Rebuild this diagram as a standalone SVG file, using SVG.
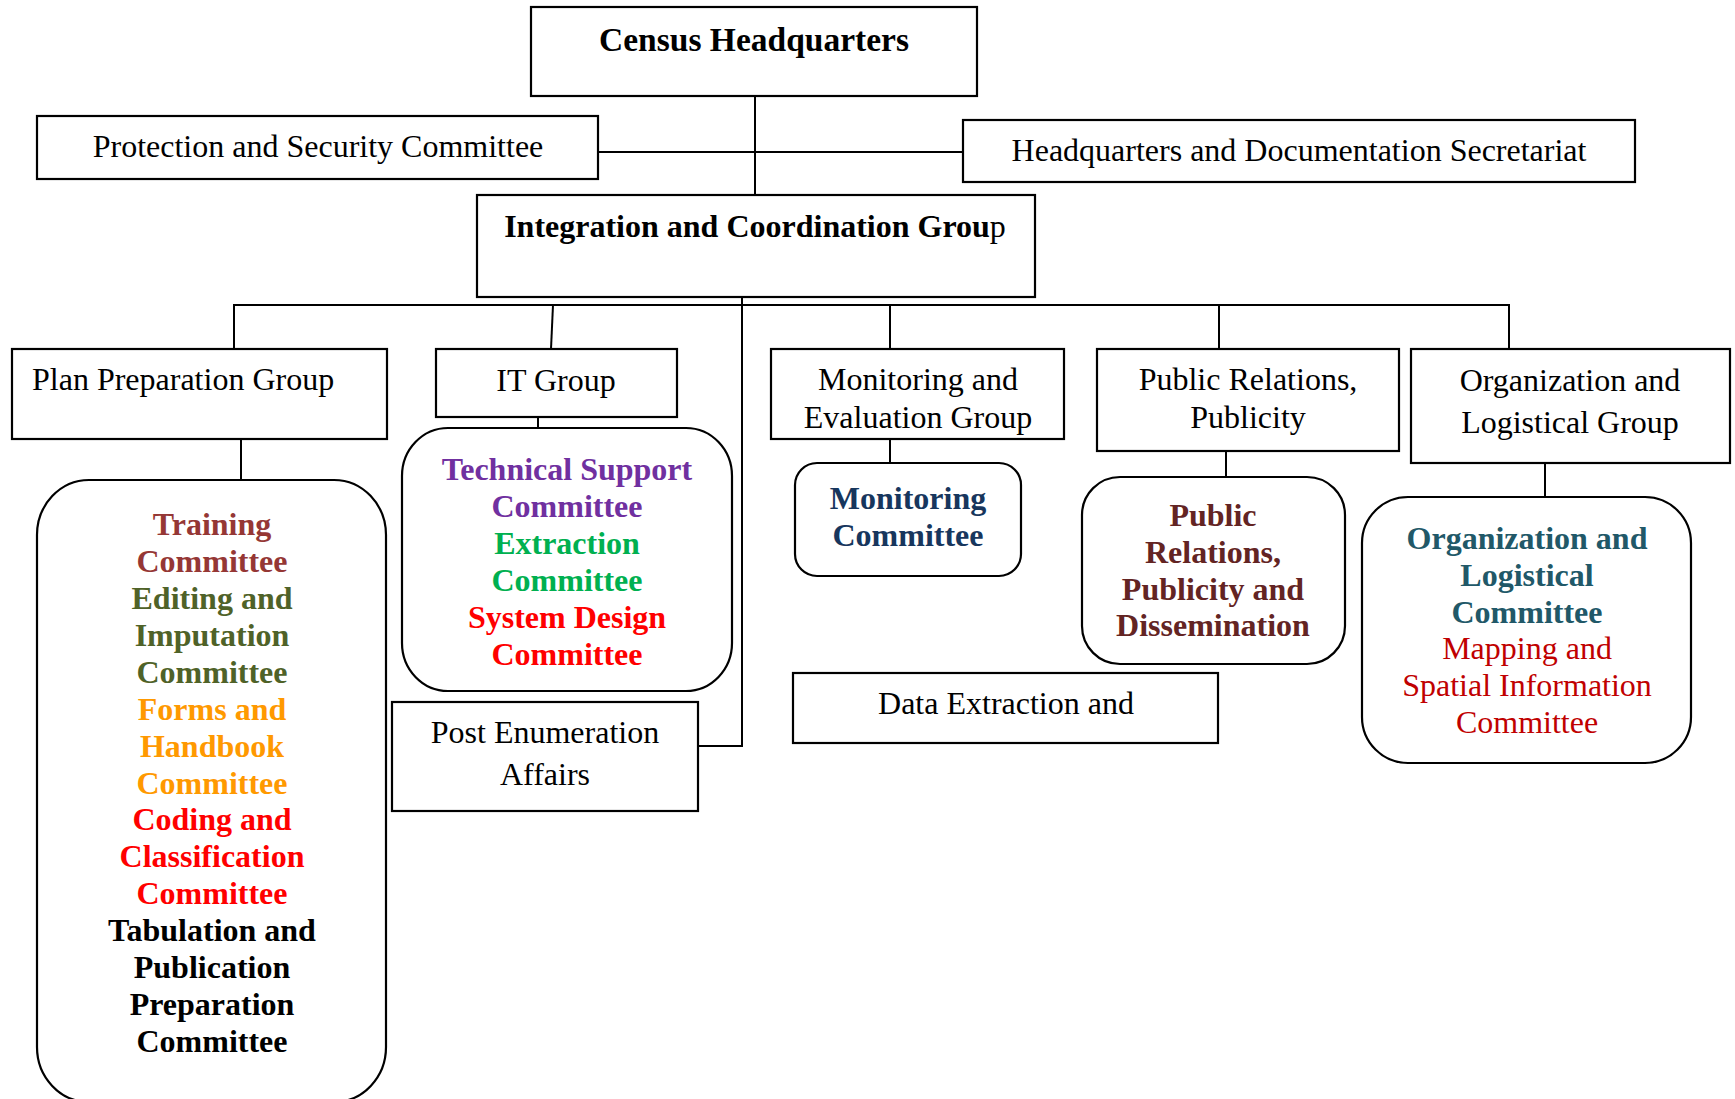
<svg xmlns="http://www.w3.org/2000/svg" width="1735" height="1099" viewBox="0 0 1735 1099">
<style>
  .box { fill: #fff; stroke: #000; stroke-width: 2.2; }
  .line { fill: none; stroke: #000; stroke-width: 2; }
  text { font-family: "Liberation Serif", "Times New Roman", serif; font-size: 32px; text-anchor: middle; }
  .b { font-weight: bold; }
  .brown { fill: #953735; }
  .olive { fill: #4F6228; }
  .orange { fill: #FF9900; }
  .red { fill: #FF0000; }
  .purple { fill: #7030A0; }
  .green { fill: #00B050; }
  .teal { fill: #215868; }
  .dred { fill: #C00000; }
  .navy { fill: #17365D; }
  .maroon { fill: #632423; }
</style>
<rect width="1735" height="1099" fill="#fff"/>
<g id="connectors">
  <line class="line" x1="755" y1="96" x2="755" y2="195"/>
  <line class="line" x1="598" y1="152" x2="963" y2="152"/>
  <polyline class="line" points="234,349 234,305 1509,305 1509,349"/>
  <line class="line" x1="742" y1="297" x2="742" y2="305"/>
  <line class="line" x1="553" y1="305" x2="551" y2="349"/>
  <line class="line" x1="890" y1="305" x2="890" y2="349"/>
  <line class="line" x1="1219" y1="305" x2="1219" y2="349"/>
  <polyline class="line" points="742,305 742,746 698,746"/>
  <line class="line" x1="241" y1="439" x2="241" y2="480"/>
  <line class="line" x1="538" y1="417" x2="538" y2="428"/>
  <line class="line" x1="890" y1="439" x2="890" y2="463"/>
  <line class="line" x1="1226" y1="451" x2="1226" y2="477"/>
  <line class="line" x1="1545" y1="463" x2="1545" y2="497"/>
</g>
<g id="census-hq">
  <rect class="box" x="531" y="7" width="446" height="89"/>
  <text class="b" x="754" y="51" style="font-size:33.5px">Census Headquarters</text>
</g>
<g id="protection">
  <rect class="box" x="37" y="116" width="561" height="63"/>
  <text x="318" y="157">Protection and Security Committee</text>
</g>
<g id="hq-documentation">
  <rect class="box" x="963" y="120" width="672" height="62"/>
  <text x="1299" y="161">Headquarters and Documentation Secretariat</text>
</g>
<g id="integration">
  <rect class="box" x="477" y="195" width="558" height="102"/>
  <text x="755" y="237"><tspan class="b">Integration and Coordination Grou</tspan>p</text>
</g>
<g id="plan-preparation">
  <rect class="box" x="12" y="349" width="375" height="90"/>
  <text x="32" y="390" style="text-anchor:start">Plan Preparation Group</text>
</g>
<g id="it-group">
  <rect class="box" x="436" y="349" width="241" height="68"/>
  <text x="556" y="391">IT Group</text>
</g>
<g id="monitoring-group">
  <rect class="box" x="771" y="349" width="293" height="90"/>
  <text x="918" y="390">Monitoring and</text>
  <text x="918" y="428">Evaluation Group</text>
</g>
<g id="pr-group">
  <rect class="box" x="1097" y="349" width="302" height="102"/>
  <text x="1248" y="390">Public Relations,</text>
  <text x="1248" y="428">Publicity</text>
</g>
<g id="org-group">
  <rect class="box" x="1411" y="349" width="319" height="114"/>
  <text x="1570" y="391">Organization and</text>
  <text x="1570" y="433">Logistical Group</text>
</g>
<g id="plan-committees">
  <rect class="box" x="37" y="480" width="349" height="622" rx="52" ry="55"/>
  <text class="b brown" x="212" y="535">Training</text>
  <text class="b brown" x="212" y="572">Committee</text>
  <text class="b olive" x="212" y="609">Editing and</text>
  <text class="b olive" x="212" y="646">Imputation</text>
  <text class="b olive" x="212" y="683">Committee</text>
  <text class="b orange" x="212" y="720">Forms and</text>
  <text class="b orange" x="212" y="757">Handbook</text>
  <text class="b orange" x="212" y="794">Committee</text>
  <text class="b red" x="212" y="830">Coding and</text>
  <text class="b red" x="212" y="867">Classification</text>
  <text class="b red" x="212" y="904">Committee</text>
  <text class="b" x="212" y="941">Tabulation and</text>
  <text class="b" x="212" y="978">Publication</text>
  <text class="b" x="212" y="1015">Preparation</text>
  <text class="b" x="212" y="1052">Committee</text>
</g>
<g id="it-committees">
  <rect class="box" x="402" y="428" width="330" height="263" rx="46" ry="48"/>
  <text class="b purple" x="567" y="480">Technical Support</text>
  <text class="b purple" x="567" y="517">Committee</text>
  <text class="b green" x="567" y="554">Extraction</text>
  <text class="b green" x="567" y="591">Committee</text>
  <text class="b red" x="567" y="628">System Design</text>
  <text class="b red" x="567" y="665">Committee</text>
</g>
<g id="post-enumeration">
  <rect class="box" x="392" y="702" width="306" height="109"/>
  <text x="545" y="743">Post Enumeration</text>
  <text x="545" y="785">Affairs</text>
</g>
<g id="monitoring-committee">
  <rect class="box" x="795" y="463" width="226" height="113" rx="22" ry="22"/>
  <text class="b navy" x="908" y="509">Monitoring</text>
  <text class="b navy" x="908" y="546">Committee</text>
</g>
<g id="pr-committee">
  <rect class="box" x="1082" y="477" width="263" height="187" rx="38" ry="38"/>
  <text class="b maroon" x="1213" y="526">Public</text>
  <text class="b maroon" x="1213" y="563">Relations,</text>
  <text class="b maroon" x="1213" y="600">Publicity and</text>
  <text class="b maroon" x="1213" y="636">Dissemination</text>
</g>
<g id="data-extraction">
  <rect class="box" x="793" y="673" width="425" height="70"/>
  <text x="1006" y="714">Data Extraction and</text>
</g>
<g id="org-committees">
  <rect class="box" x="1362" y="497" width="329" height="266" rx="46" ry="46"/>
  <text class="b teal" x="1527" y="549">Organization and</text>
  <text class="b teal" x="1527" y="586">Logistical</text>
  <text class="b teal" x="1527" y="623">Committee</text>
  <text class="dred" x="1527" y="659">Mapping and</text>
  <text class="dred" x="1527" y="696">Spatial Information</text>
  <text class="dred" x="1527" y="733">Committee</text>
</g>
</svg>
